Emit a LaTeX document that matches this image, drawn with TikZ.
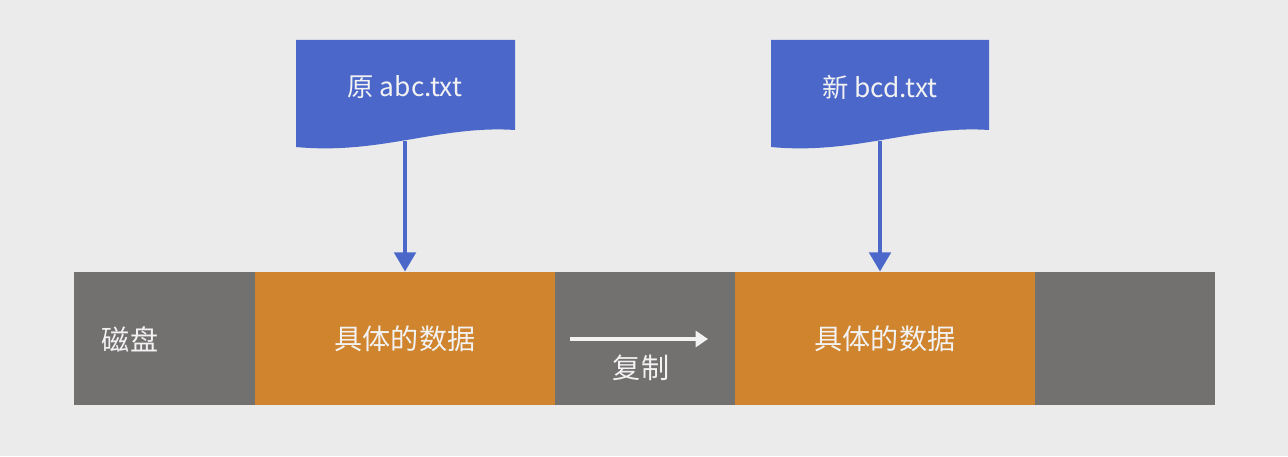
\documentclass[tikz,border=0pt]{standalone}
\usepackage{fontspec}
\setmainfont{Noto Sans CJK SC}
\usepackage{tikz}
\usetikzlibrary{arrows.meta}
\definecolor{diskgray}{HTML}{737070}
\definecolor{dataorange}{HTML}{CF842D}
\definecolor{docblue}{HTML}{4A67C9}
\definecolor{bggray}{HTML}{EBEBEB}
\definecolor{labelwhite}{HTML}{F2F2F2}
\tikzset{
  seg/.style={draw=none, minimum height=2.66cm, inner sep=0pt, text=labelwhite, font=\fontsize{16}{19}\selectfont},
  doctext/.style={text=labelwhite, font=\fontsize{15}{18}\selectfont},
  pointer/.style={docblue, line width=2.8pt, -{Triangle[width=12pt,length=11pt]}},
  copyarrow/.style={labelwhite, line width=2.2pt, -{Triangle[width=9pt,length=7pt]}}
}

\begin{document}
\begin{tikzpicture}
        % background
        \fill[bggray] (0,0) rectangle (25.76,9.12);
        \useasboundingbox (0,0) rectangle (25.76,9.12);

        % Disk bar (gray) with the two data blocks on top
        \node[seg, fill=diskgray, minimum width=22.82cm] (disk) at (12.89,2.35) {};
        \node[seg, text=labelwhite] (disklabel) at (2.60,2.33) {磁盘};
        \node[seg, fill=dataorange, minimum width=6cm] (data1) at (8.10,2.35) {具体的数据};
        \node[seg, fill=dataorange, minimum width=6cm] (data2) at (17.70,2.35) {具体的数据};

        % Copy arrow between the blocks
        \coordinate (copyfrom) at (11.40,2.34);
        \coordinate (copyto) at (14.16,2.34);
        \draw[copyarrow] (copyfrom) -- (copyto);
        \node[seg, minimum height=0pt] (copylabel) at (12.82,1.76) {复制};

        % Original file (document shape)
        \fill[docblue] (5.92,8.32) -- (10.30,8.32) -- (10.30,6.52)
            .. controls (8.8,6.62) and (7.6,6.02) .. (5.92,6.18) -- cycle;
        \node[doctext] (doc1) at (8.10,7.38) {原 abc.txt};
        \coordinate (doc1bot) at (8.10,6.30);

        % New file (document shape)
        \fill[docblue] (15.42,8.32) -- (19.78,8.32) -- (19.78,6.52)
            .. controls (18.3,6.62) and (17.1,6.02) .. (15.42,6.18) -- cycle;
        \node[doctext] (doc2) at (17.60,7.38) {新 bcd.txt};
        \coordinate (doc2bot) at (17.60,6.30);

        % Pointers from the files to the data
        \draw[pointer] (doc1bot) -- (doc1bot |- data1.north);
        \draw[pointer] (doc2bot) -- (doc2bot |- data2.north);

    \end{tikzpicture}
\end{document}
